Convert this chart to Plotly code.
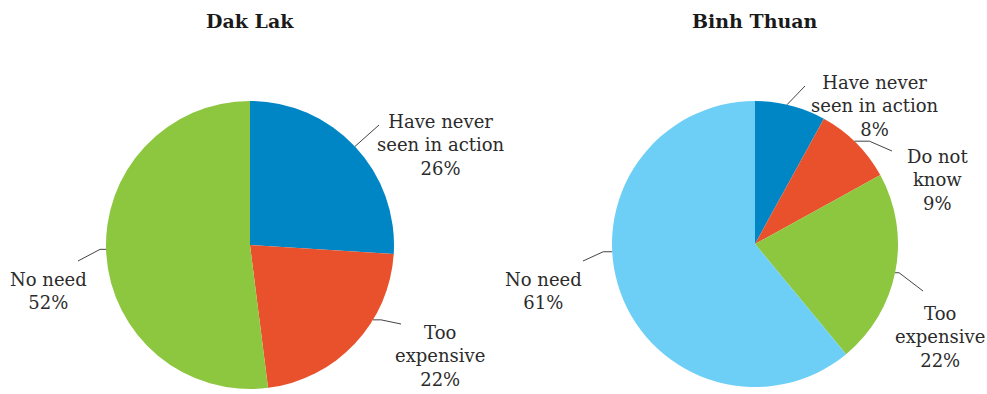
import math
import plotly.graph_objects as go

W, H = 987, 394

# ---- data ----
dak_labels = ["Have never<br>seen in action", "Too<br>expensive", "No need"]
dak_values = [26, 22, 52]
dak_colors = ["#0086c5", "#e8512b", "#8dc63f"]

binh_labels = ["Have never<br>seen in action", "Do not<br>know", "Too<br>expensive", "No need"]
binh_values = [8, 9, 22, 61]
binh_colors = ["#0086c5", "#e8512b", "#8dc63f", "#6dcff6"]

titles = ["Dak Lak", "Binh Thuan"]

# ---- layout (pixel geometry) ----
pies = [
    dict(cx=250, cy=245, r=144, labels=dak_labels, values=dak_values, colors=dak_colors,
         # per-slice: anchor fraction in slice, elbow length, line end (px), label center (px)
         lab=[(0.5, 0, (379, 125), (441, 145)),
              (0.35, 8, (401, 324), (440, 356)),
              (0.51, 6, (78, 261), (48, 291))]),
    dict(cx=755, cy=244, r=143, labels=binh_labels, values=binh_values, colors=binh_colors,
         lab=[(0.45, 0, (805, 86), (875, 106)),
              (0.47, 15, (892, 151), (937, 180)),
              (0.51, 4, (923, 291), (940, 337)),
              (0.576, 9, (583, 261), (543, 291))]),
]

FONT = "DejaVu Serif"
TXT = "#2b2b2b"


def px(x):
    return x / W


def py(y):
    return 1 - y / H


fig = go.Figure()
shapes = []
annotations = []
for i, p in enumerate(pies):
    fig.add_trace(go.Pie(
        labels=[l.replace("<br>", " ") for l in p["labels"]], values=p["values"],
        marker=dict(colors=p["colors"], line=dict(width=0)),
        sort=False, direction="clockwise", rotation=0,
        textinfo="none", hoverinfo="label+percent", showlegend=False,
        domain=dict(x=[px(p["cx"] - p["r"]), px(p["cx"] + p["r"])],
                    y=[py(p["cy"] + p["r"]), py(p["cy"] - p["r"])]),
    ))
    total = sum(p["values"])
    start = 0.0
    for lbl, v, (frac, elbow, end, center) in zip(p["labels"], p["values"], p["lab"]):
        span = v / total * 360
        ang = math.radians(start + frac * span)
        start += span
        ax = p["cx"] + p["r"] * math.sin(ang)
        ay = p["cy"] - p["r"] * math.cos(ang)
        sgn = 1 if end[0] > ax else -1
        ex = ax + sgn * elbow
        path = f"M {px(ax)},{py(ay)} L {px(ex)},{py(ay)} L {px(end[0])},{py(end[1])}"
        shapes.append(dict(type="path", path=path, xref="paper", yref="paper",
                           line=dict(color="#444444", width=1)))
        annotations.append(dict(
            text=f"{lbl}<br>{v}%", x=px(center[0]), y=py(center[1]),
            xref="paper", yref="paper", xanchor="center", yanchor="middle",
            showarrow=False, align="center",
            font=dict(family=FONT, size=18, color=TXT)))
    annotations.append(dict(
        text=f"<b>{titles[i]}</b>", x=px(p["cx"]), y=py(21), xref="paper", yref="paper",
        xanchor="center", yanchor="middle", showarrow=False,
        font=dict(family=FONT, size=19, color="#1a1a1a")))

fig.update_layout(
    width=W, height=H, margin=dict(l=0, r=0, t=0, b=0),
    paper_bgcolor="white", plot_bgcolor="white",
    shapes=shapes, annotations=annotations,
)
fig.write_html("out.html", config={"displayModeBar": False},
               post_script="document.body.style.margin='0';")
